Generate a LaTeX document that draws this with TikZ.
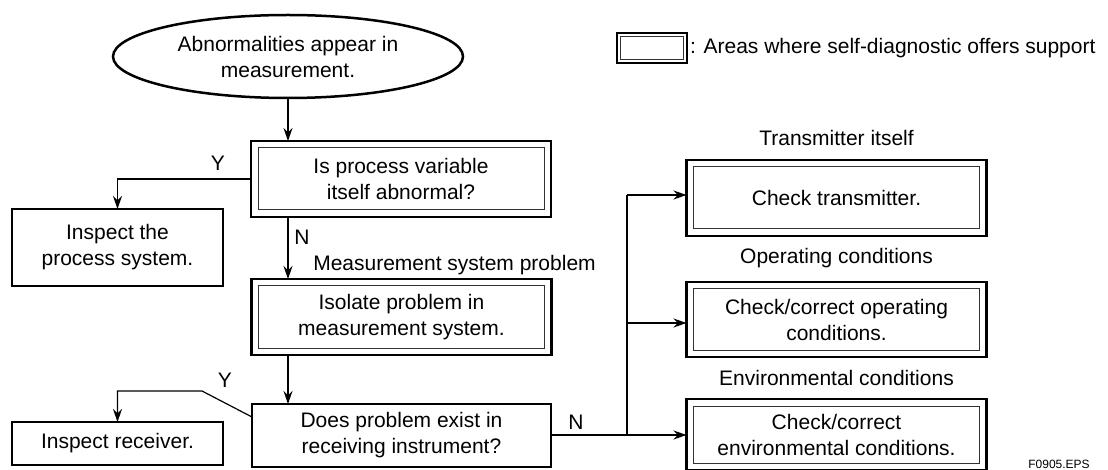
\documentclass[tikz,border=0pt]{standalone}
\usepackage{fontspec}
\setmainfont{Liberation Sans}
\usetikzlibrary{arrows.meta,calc,shapes.geometric}
\begin{document}
\begin{tikzpicture}[x=1pt,y=-1pt,
  every node/.style={font=\fontsize{21}{26}\selectfont, inner sep=0pt, outer sep=0pt},
  box/.style={draw, line width=2.3pt, minimum width=300pt, minimum height=76pt, align=center},
  sbox/.style={draw, line width=2.3pt, align=center},
  inner/.style={draw=black!80, line width=1pt},
  conn/.style={line width=1.2pt},
  arr/.style={conn, -{Stealth[length=13pt,width=9pt]}},
  lbl/.style={align=center}]
\useasboundingbox (0,0) rectangle (1108,470);
\clip (0,0) rectangle (1108,470);

% start ellipse
\node[draw, ellipse, line width=2.5pt, minimum width=350pt, minimum height=83pt, align=center] (ell) at (288,56.5) {Abnormalities appear in\\measurement.};

% main column
\node[box] (b1) at (401,179) {Is process variable\\itself abnormal?};
\node[box] (b2) at (401.5,317) {Isolate problem in\\measurement system.};
\node[sbox, minimum width=299pt, minimum height=63pt] (b3) at (401.5,435.5) {Does problem exist in\\receiving instrument?};

% left column
\node[sbox, minimum width=211pt, minimum height=77pt] (ip) at (117.5,247.5) {Inspect the\\process system.};
\node[sbox, minimum width=211pt, minimum height=43pt] (ir) at (117.5,443.5) {Inspect receiver.};

% right column
\node[box] (t1) at (836.5,198) {Check transmitter.};
\node[box, minimum height=75pt] (t2) at (836.5,319.5) {Check/correct operating\\conditions.};
\node[box, minimum height=71pt] (t3) at (836.5,434.5) {Check/correct\\environmental conditions.};

% legend
\node[draw, line width=2.3pt, minimum width=70pt, minimum height=30pt] (leg) at (652,48) {};
\node[anchor=west] (legt) at (690,48) {: Areas where self-diagnostic offers support};

% inner rectangles of double boxes
\foreach \n in {b1,b2,t1,t2,t3}
  \draw[inner] ($(\n.north west)+(7pt,-7pt)$) rectangle ($(\n.south east)+(-7pt,7pt)$);
\draw[inner] ($(leg.north west)+(3.5pt,-3.5pt)$) rectangle ($(leg.south east)+(-3.5pt,3.5pt)$);

% labels
\node[lbl] (lt1) at (836.5,138) {Transmitter itself};
\node[lbl] (lt2) at (836.5,258) {Operating conditions};
\node[lbl] (lt3) at (836.5,378) {Environmental conditions};
\node[lbl] (msp) at (454.5,265) {Measurement system problem};
\node (y1) at (218,163) {Y};
\node (n1) at (302,237) {N};
\node (y2) at (225,380) {Y};
\node (n2) at (576,422) {N};
\node[font=\fontsize{12}{14}\selectfont, anchor=base] (eps) at (1059,468) {F0905.EPS};

% connectors
\draw[arr] (ell.south) -- (ell.south |- b1.north);
\draw[arr] (b1.west) -| (ip.north);
\draw[arr] (ell.south |- b1.south) -- (ell.south |- b2.north);
\draw[arr] (ell.south |- b2.south) -- (ell.south |- b3.north);

\coordinate (ybend) at (202,391);
\coordinate (ystart) at (0,417);
\draw[arr] (b3.west |- ystart) -- (ybend) -| (ir.north);

\coordinate (j) at (627,435);
\coordinate (jt) at (627,195);
\coordinate (jo) at (627,323);
\draw[conn] (b3.east |- j) -- (j);
\draw[conn] (j) -- (jt);
\draw[arr] (jt) -- (jt -| t1.west);
\draw[arr] (jo) -- (jo -| t2.west);
\draw[arr] (j) -- (j -| t3.west);
\end{tikzpicture}
\end{document}
